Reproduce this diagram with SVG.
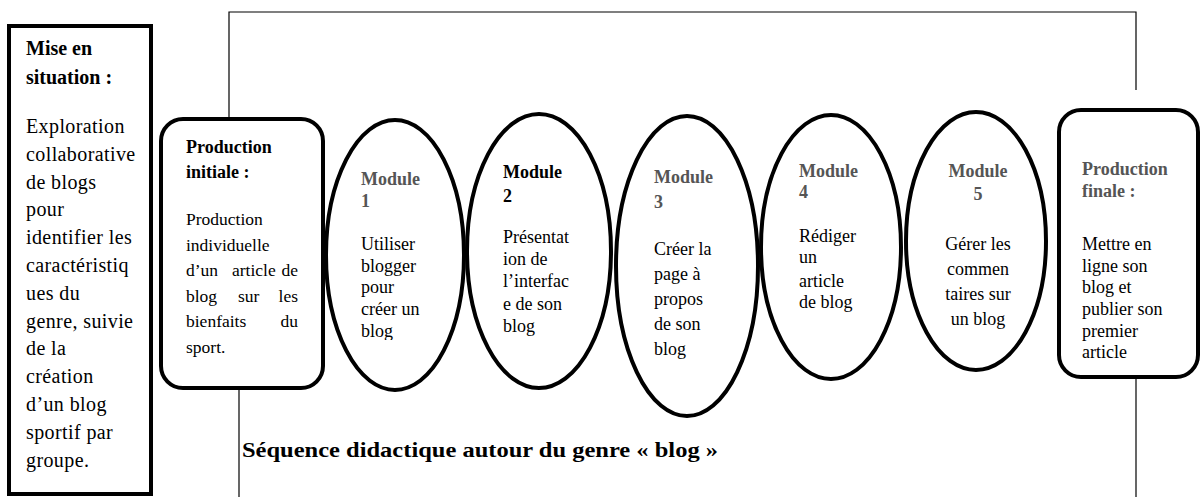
<svg xmlns="http://www.w3.org/2000/svg" width="1201" height="497" viewBox="0 0 1201 497">
<style>
  text { font-family: "Liberation Serif", "Times New Roman", serif; fill: #000; }
  .box { fill: #fff; stroke: #000; stroke-width: 4; }
  .frame { fill: none; stroke: #000; stroke-width: 1.2; }
  .t20 { font-size: 20px; }
  .t18 { font-size: 18px; }
  .t17 { font-size: 17.5px; }
  .b { font-weight: bold; }
  .g { fill: #555; }
  .cap { font-size: 22px; font-weight: bold; }
</style>
<defs>
  <clipPath id="clipM1"><rect x="330" y="110" width="140" height="230"/></clipPath>
</defs>
<rect width="1201" height="497" fill="#fff"/>
<g id="connectors">
  <polyline class="frame" points="229,117 229,12 1136,12 1136,90"/>
  <line class="frame" x1="239" y1="388" x2="239" y2="497"/>
  <line class="frame" x1="1136" y1="376" x2="1136" y2="497"/>
</g>
<g id="mise-en-situation">
  <rect class="box" x="9" y="26" width="142" height="468"/>
  <text class="t20 b" x="26" y="55">Mise en</text>
  <text class="t20 b" x="26" y="84">situation :</text>
  <text class="t20" x="26" y="133" letter-spacing="0.4">
    <tspan x="26" y="133">Exploration</tspan>
    <tspan x="26" y="160.8">collaborative</tspan>
    <tspan x="26" y="188.6">de blogs</tspan>
    <tspan x="26" y="216.4">pour</tspan>
    <tspan x="26" y="244.2">identifier les</tspan>
    <tspan x="26" y="272">caractéristiq</tspan>
    <tspan x="26" y="299.8">ues du</tspan>
    <tspan x="26" y="327.6">genre, suivie</tspan>
    <tspan x="26" y="355.4">de la</tspan>
    <tspan x="26" y="383.2">création</tspan>
    <tspan x="26" y="411">d’un blog</tspan>
    <tspan x="26" y="438.8">sportif par</tspan>
    <tspan x="26" y="466.6">groupe.</tspan>
  </text>
</g>
<g id="production-initiale">
  <rect class="box" x="161" y="119" width="162" height="269" rx="22"/>
  <text class="t18 b" x="186" y="153">Production</text>
  <text class="t18 b" x="186" y="178">initiale :</text>
  <text class="t17" x="186" y="225">Production</text>
  <text class="t17" x="186" y="250.5">individuelle</text>
  <text class="t17" y="276"><tspan x="186">d’un</tspan><tspan x="232">article</tspan><tspan x="298" text-anchor="end">de</tspan></text>
  <text class="t17" y="301.5"><tspan x="186">blog</tspan><tspan x="238">sur</tspan><tspan x="298" text-anchor="end">les</tspan></text>
  <text class="t17" y="327"><tspan x="186">bienfaits</tspan><tspan x="298" text-anchor="end">du</tspan></text>
  <text class="t17" x="186" y="352.5">sport.</text>
</g>
<g id="module-1">
  <ellipse class="box" cx="395" cy="255" rx="69" ry="135"/>
  <text class="t18 b g" x="361" y="185">Module</text>
  <text class="t18 b g" x="361" y="207">1</text>
  <g clip-path="url(#clipM1)">
    <text class="t18" x="361" y="250">Utiliser</text>
    <text class="t18" x="361" y="272">blogger</text>
    <text class="t18" x="361" y="293">pour</text>
    <text class="t18" x="361" y="315">créer un</text>
    <text class="t18" x="361" y="337">blog</text>
  </g>
</g>
<g id="module-2">
  <ellipse class="box" cx="539" cy="251" rx="72" ry="137"/>
  <text class="t18 b" x="503" y="178">Module</text>
  <text class="t18 b" x="503" y="202">2</text>
  <text class="t18" x="503" y="243">Présentat</text>
  <text class="t18" x="503" y="265">ion de</text>
  <text class="t18" x="503" y="287">l’interfac</text>
  <text class="t18" x="503" y="310">e de son</text>
  <text class="t18" x="503" y="332">blog</text>
</g>
<g id="module-3">
  <ellipse class="box" cx="687" cy="266" rx="71" ry="150"/>
  <text class="t18 b g" x="654" y="183">Module</text>
  <text class="t18 b g" x="654" y="208">3</text>
  <text class="t18" x="654" y="255">Créer la</text>
  <text class="t18" x="654" y="280">page à</text>
  <text class="t18" x="654" y="305">propos</text>
  <text class="t18" x="654" y="330">de son</text>
  <text class="t18" x="654" y="355">blog</text>
</g>
<g id="module-4">
  <ellipse class="box" cx="831" cy="247" rx="70" ry="132"/>
  <text class="t18 b g" x="799" y="177">Module</text>
  <text class="t18 b g" x="799" y="198">4</text>
  <text class="t18" x="799" y="242">Rédiger</text>
  <text class="t18" x="799" y="263">un</text>
  <text class="t18" x="799" y="287">article</text>
  <text class="t18" x="799" y="308">de blog</text>
</g>
<g id="module-5">
  <ellipse class="box" cx="976" cy="241" rx="70" ry="129"/>
  <text class="t18 b g" x="978" y="177" text-anchor="middle">Module</text>
  <text class="t18 b g" x="978" y="200" text-anchor="middle">5</text>
  <text class="t18" x="978" y="250" text-anchor="middle">Gérer les</text>
  <text class="t18" x="978" y="275" text-anchor="middle">commen</text>
  <text class="t18" x="978" y="300" text-anchor="middle">taires sur</text>
  <text class="t18" x="978" y="325" text-anchor="middle">un blog</text>
</g>
<g id="production-finale">
  <rect class="box" x="1059" y="110" width="139" height="267" rx="22"/>
  <text class="t18 b g" x="1082" y="175">Production</text>
  <text class="t18 b g" x="1082" y="197">finale :</text>
  <text class="t18" x="1082" y="250">Mettre en</text>
  <text class="t18" x="1082" y="272">ligne son</text>
  <text class="t18" x="1082" y="293">blog et</text>
  <text class="t18" x="1082" y="315">publier son</text>
  <text class="t18" x="1082" y="337">premier</text>
  <text class="t18" x="1082" y="358">article</text>
</g>
<g id="caption">
  <text class="cap" x="242" y="457" textLength="476" lengthAdjust="spacingAndGlyphs">Séquence didactique autour du genre « blog »</text>
</g>
</svg>
